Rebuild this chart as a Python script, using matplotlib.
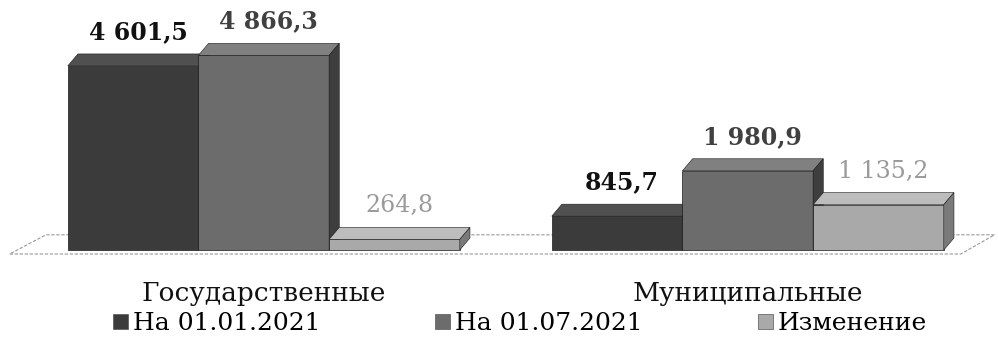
import matplotlib.pyplot as plt
from matplotlib.patches import Polygon, Patch

plt.rcParams['font.family'] = ['DejaVu Serif']

categories = ['Государственные', 'Муниципальные']
series_names = ['На 01.01.2021', 'На 01.07.2021', 'Изменение']
values = [
    [4601.5, 845.7],   # на 01.01.2021
    [4866.3, 1980.9],  # на 01.07.2021
    [264.8, 1135.2],   # изменение
]
value_labels = [
    ['4 601,5', '845,7'],
    ['4 866,3', '1 980,9'],
    ['264,8', '1 135,2'],
]

front_colors = ['#3b3b3b', '#6c6c6c', '#a9a9a9']
top_colors = ['#505050', '#808080', '#bdbdbd']
side_colors = ['#222222', '#3e3e3e', '#7a7a7a']
label_colors = ['#111111', '#404040', '#9a9a9a']
label_weights = ['bold', 'bold', 'normal']

width = 0.27
dx, dy = 0.021, 300   # depth of the pseudo-3D faces

fig = plt.figure(figsize=(9.98, 3.38), dpi=100)
ax = fig.add_axes([0, 0, 1, 1])
ax.set_xlim(-0.545, 1.517)
ax.set_ylim(-2200, 6250)
ax.axis('off')

x_groups = list(range(len(categories)))

# floor plane under the bars
floor = Polygon([(x_groups[0] - 0.525, -100), (x_groups[-1] + 0.44, -100),
                 (x_groups[-1] + 0.51, 380), (x_groups[0] - 0.45, 380)],
                closed=True, facecolor='white', edgecolor='#9a9a9a',
                lw=0.8, ls=(0, (3, 1.5)), zorder=0)
ax.add_patch(floor)

z = 1
for g in x_groups:
    for i, vals in enumerate(values):
        x = g + (i - 1) * width
        h = vals[g]
        bar = ax.bar(x, h, width=width, color=front_colors[i],
                     edgecolor='#1a1a1a', lw=0.5, zorder=z)[0]
        x0 = bar.get_x()
        x1 = x0 + bar.get_width()
        top = Polygon([(x0, h), (x0 + dx, h + dy), (x1 + dx, h + dy), (x1, h)],
                      closed=True, facecolor=top_colors[i],
                      edgecolor='#1a1a1a', lw=0.4, zorder=z + 0.5)
        side = Polygon([(x1, 0), (x1, h), (x1 + dx, h + dy), (x1 + dx, dy)],
                       closed=True, facecolor=side_colors[i],
                       edgecolor='#1a1a1a', lw=0.4, zorder=z + 0.5)
        ax.add_patch(top)
        ax.add_patch(side)
        ax.text(x + dx / 2, h + dy + 250, value_labels[i][g],
                ha='center', va='bottom', fontsize=17,
                fontweight=label_weights[i], color=label_colors[i],
                zorder=20)
        z += 1

for g, name in zip(x_groups, categories):
    ax.text(g, -1080, name, ha='center', va='center', fontsize=19,
            color='#111111')

handles = [Patch(facecolor=c, edgecolor='#555555', lw=0.5) for c in front_colors]
fig.legend(handles, series_names, loc='lower center',
           bbox_to_anchor=(0.521, 0.008), ncol=3, frameon=False,
           fontsize=18, handlelength=0.6, handleheight=0.6,
           handletextpad=0.2, columnspacing=4.6, borderpad=0,
           borderaxespad=0)

fig.savefig('out.png', dpi=100)
